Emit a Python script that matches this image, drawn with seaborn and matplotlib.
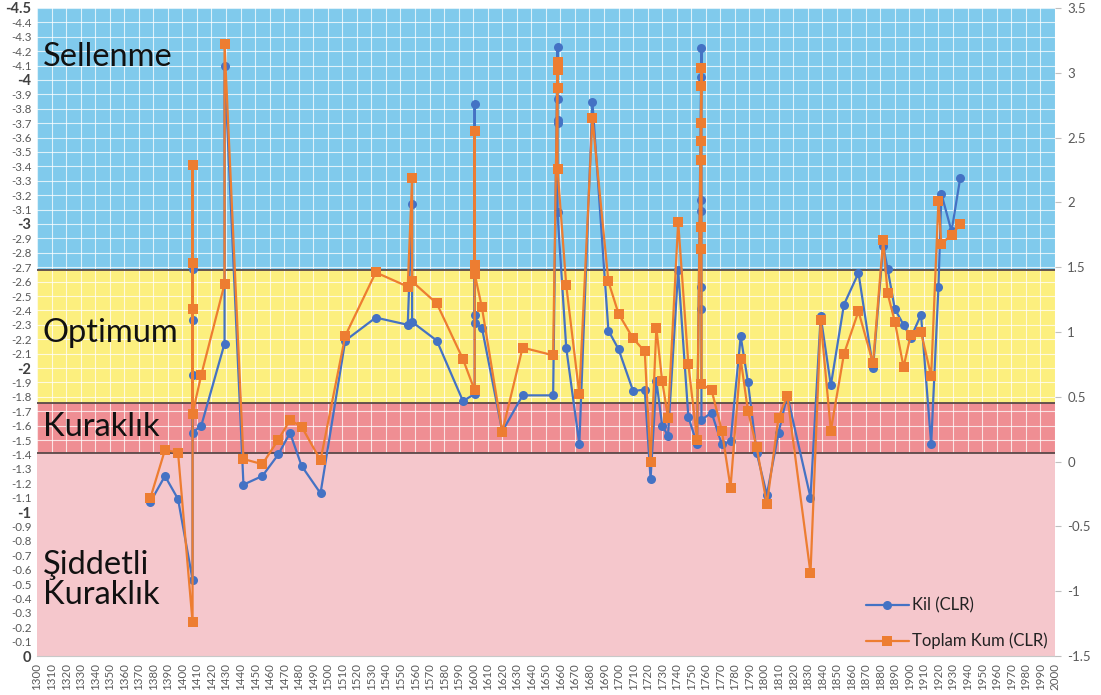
import numpy as np
import matplotlib
matplotlib.use("Agg")
import matplotlib.pyplot as plt
import seaborn as sns

# Kil (CLR) — left axis
kil_years = [1378, 1388, 1397, 1407, 1407, 1407, 1407, 1407, 1413, 1429, 1429,
             1442, 1455, 1466, 1474, 1482, 1495, 1512, 1533, 1555, 1558, 1558,
             1575, 1593, 1601, 1601, 1601, 1601, 1606, 1620, 1634, 1655,
             1658, 1658, 1658, 1658, 1658, 1664, 1673, 1682, 1693, 1700, 1710,
             1718, 1722, 1726, 1730, 1734, 1741, 1748, 1754,
             1757, 1757, 1757, 1757, 1757, 1757, 1757,
             1764, 1771, 1777, 1784, 1789, 1795, 1802, 1810, 1816, 1832, 1839,
             1846, 1855, 1865, 1875, 1882, 1885, 1890, 1896, 1901, 1908, 1915,
             1920, 1922, 1929, 1935]
kil_values = [-1.07, -1.25, -1.09, -0.53, -2.69, -2.33, -1.95, -1.55, -1.60, -2.17, -4.10,
              -1.19, -1.25, -1.40, -1.55, -1.32, -1.13, -2.19, -2.35, -2.30, -3.14, -2.32,
              -2.19, -1.77, -1.82, -3.83, -2.37, -2.31, -2.28, -1.56, -1.81, -1.81,
              -4.23, -3.87, -3.72, -3.70, -3.08, -2.14, -1.47, -3.85, -2.26, -2.13, -1.84,
              -1.85, -1.23, -1.91, -1.60, -1.53, -2.68, -1.66, -1.47,
              -4.22, -4.02, -3.17, -3.09, -2.56, -2.41, -1.64,
              -1.69, -1.47, -1.49, -2.22, -1.90, -1.41, -1.12, -1.55, -1.81, -1.10, -2.36,
              -1.88, -2.44, -2.66, -2.00, -2.85, -2.69, -2.41, -2.30, -2.21, -2.37, -1.47,
              -2.56, -3.21, -2.95, -3.32]

# Toplam Kum (CLR) — right axis
kum_years = [1378, 1388, 1397, 1407, 1407, 1407, 1407, 1407, 1413, 1429, 1429,
             1442, 1455, 1466, 1474, 1482, 1495, 1512, 1533, 1555, 1558, 1558,
             1575, 1593, 1601, 1601, 1601, 1601, 1606, 1620, 1634, 1655,
             1658, 1658, 1658, 1658, 1658, 1664, 1673, 1682, 1693, 1700, 1710,
             1718, 1722, 1726, 1730, 1734, 1741, 1748, 1754,
             1757, 1757, 1757, 1757, 1757, 1757, 1757, 1757,
             1764, 1771, 1777, 1784, 1789, 1795, 1802, 1810, 1816, 1832, 1839,
             1846, 1855, 1865, 1875, 1882, 1885, 1890, 1896, 1901, 1908, 1915,
             1920, 1922, 1929, 1935]
kum_values = [-0.28, 0.09, 0.07, -1.24, 2.29, 1.53, 1.18, 0.37, 0.67, 1.37, 3.22,
              0.02, -0.02, 0.17, 0.32, 0.27, 0.01, 0.97, 1.46, 1.35, 2.19, 1.39,
              1.22, 0.79, 0.55, 2.55, 1.52, 1.45, 1.19, 0.23, 0.88, 0.82,
              3.08, 3.05, 3.02, 2.88, 2.26, 1.36, 0.52, 2.65, 1.39, 1.14, 0.95,
              0.85, 0.00, 1.03, 0.62, 0.34, 1.85, 0.75, 0.17,
              3.04, 2.90, 2.61, 2.47, 2.33, 1.81, 1.64, 0.60,
              0.55, 0.24, -0.20, 0.79, 0.39, 0.11, -0.33, 0.34, 0.51, -0.86, 1.09,
              0.24, 0.83, 1.16, 0.76, 1.71, 1.30, 1.08, 0.73, 0.98, 1.00, 0.66,
              2.01, 1.68, 1.75, 1.83]

# Climate zones on the left scale
zone_edges = [-4.5, -2.68, -1.76, -1.41, 0.0]
zone_colors = ["#80caec", "#fcef7e", "#ef8e93", "#f5c3c9"]
zone_labels = ["Sellenme", "Optimum", "Kuraklık", "Şiddetli\nKuraklık"]
zone_label_y = [-4.16, -2.24, -1.59, -0.53]

x_ticks = list(range(1300, 2001, 10))
left_ticks = [round(-0.1 * i, 1) for i in range(0, 46)]
right_ticks = [-1.5, -1, -0.5, 0, 0.5, 1, 1.5, 2, 2.5, 3, 3.5]

sns.set_style("white")
plt.rcParams["font.family"] = ["Lato", "DejaVu Sans"]

fig = plt.figure(figsize=(11.01, 6.95), dpi=100)
ax = fig.add_axes([0.0336, 0.0561, 0.9244, 0.9324])

ax.set_xlim(1300, 2000)
ax.set_ylim(0, -4.5)

# background zones
for i, c in enumerate(zone_colors):
    z = 0.5 if i < 3 else 1.5
    a = 1.0 if i < 3 else 0.93
    ax.axhspan(zone_edges[i], zone_edges[i + 1], color=c, zorder=z, alpha=a, lw=0)

# white grid
for xv in x_ticks:
    ax.axvline(xv, color="white", lw=0.8, alpha=0.75, zorder=1)
for yv in left_ticks:
    ax.axhline(yv, color="white", lw=0.8, alpha=0.75, zorder=1)

# zone borders
for yv in zone_edges[1:4]:
    ax.axhline(yv, color="#5a4848", lw=1.3, zorder=2)

for lab, yv in zip(zone_labels, zone_label_y):
    ax.text(1304, yv, lab, fontsize=23.5, color="#111111", va="center", ha="left",
            linespacing=1.0, zorder=2.5)

sns.lineplot(x=kil_years, y=kil_values, ax=ax, estimator=None, sort=False,
             color="#4472c4", lw=1.6, marker="o", markersize=6.5,
             markeredgewidth=0, label="Kil (CLR)", legend=False, zorder=3)

ax2 = ax.twinx()
ax2.set_ylim(-1.5, 3.5)
sns.lineplot(x=kum_years, y=kum_values, ax=ax2, estimator=None, sort=False,
             color="#ed7d31", lw=1.6, marker="s", markersize=7,
             markeredgewidth=0, label="Toplam Kum (CLR)", legend=False, zorder=3)
ax2.set_xlim(1300, 2000)

ax.set_xticks(x_ticks)
ax.set_xticklabels([str(v) for v in x_ticks], rotation=90, fontsize=8.3, color="#595959")
ax.set_yticks(left_ticks)
ax.set_yticklabels(["0" if v == 0 else f"{v:g}" for v in left_ticks])
for v, t in zip(left_ticks, ax.get_yticklabels()):
    if abs(v - round(v)) < 1e-9 or abs(v + 4.5) < 1e-9:
        t.set_fontsize(10.5)
        t.set_fontweight("bold")
        t.set_color("#404040")
    else:
        t.set_fontsize(8.3)
        t.set_color("#595959")
ax.tick_params(axis="y", length=0, pad=4)
ax.tick_params(axis="x", length=0, pad=5)

ax2.set_yticks(right_ticks)
ax2.set_yticklabels([f"{v:g}" for v in right_ticks], fontsize=9.5, color="#595959")
ax2.tick_params(axis="y", length=4, width=0.8, color="#bfbfbf", pad=5)
ax.set_xlabel("")
ax.set_ylabel("")
ax2.set_ylabel("")

for a in (ax, ax2):
    for s in a.spines.values():
        s.set_visible(False)
ax.spines["bottom"].set_visible(True)
ax.spines["bottom"].set_color("#c8c8c8")
ax.spines["bottom"].set_zorder(4)

h1, l1 = ax.get_legend_handles_labels()
h2, l2 = ax2.get_legend_handles_labels()
leg = ax2.legend(h1 + h2, l1 + l2, loc="lower right", frameon=False,
                 fontsize=12, labelspacing=1.15, handlelength=2.6,
                 handletextpad=0.2, borderaxespad=0.0, bbox_to_anchor=(1.0, 0.0))
for t in leg.get_texts():
    t.set_color("#222222")

fig.savefig("out.png", dpi=100)
